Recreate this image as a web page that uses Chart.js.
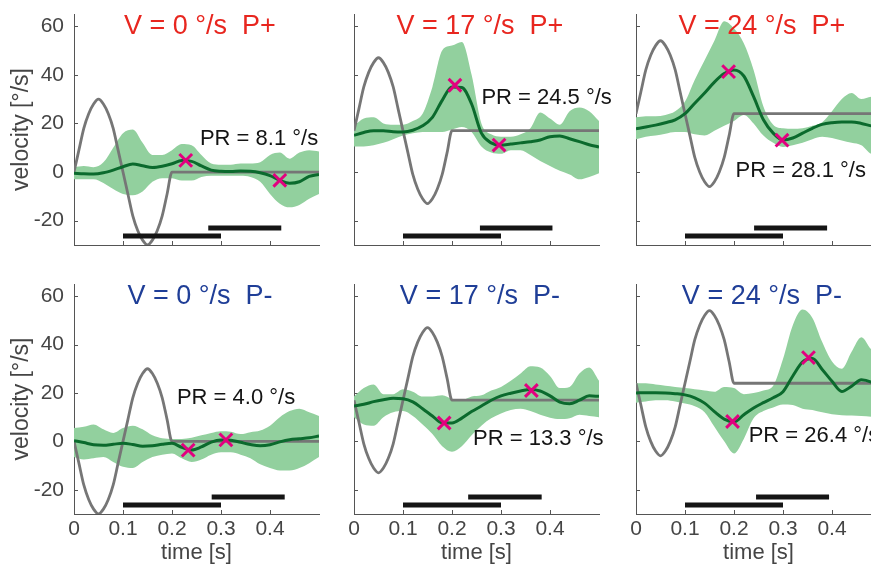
<!DOCTYPE html>
<html>
<head>
<meta charset="utf-8">
<script src="https://cdn.jsdelivr.net/npm/chart.js@4.4.1/dist/chart.umd.min.js"></script>
<style>
html,body{margin:0;padding:0;background:#fff;}
#wrap{position:relative;width:871px;height:569px;overflow:hidden;background:#fff;}
canvas{position:absolute;}
</style>
</head>
<body>
<div id="wrap"></div>
<script>
// ---------- data ----------
const T  = [0,0.02,0.04,0.06,0.08,0.1,0.12,0.14,0.16,0.18,0.2,0.22,0.24,0.26,0.28,0.3,0.32,0.34,0.36,0.38,0.4,0.42,0.44,0.46,0.48,0.5];
const TS = [0,0.01,0.02,0.03,0.04,0.05,0.06,0.07,0.08,0.09,0.1,0.11,0.12,0.13,0.14,0.15,0.16,0.17,0.18,0.19,0.2,0.5];
const xTicks = [0,0.1,0.2,0.3,0.4];
const xTickLabels = ['0','0.1','0.2','0.3','0.4'];
const yTicks = [-20,0,20,40,60];
const yTickLabels = ['-20','0','20','40','60'];

const titles = ['V = 0 °/s  P+','V = 17 °/s  P+','V = 24 °/s  P+','V = 0 °/s  P-','V = 17 °/s  P-','V = 24 °/s  P-'];
const prLabels = ['PR = 8.1 °/s','PR = 24.5 °/s','PR = 28.1 °/s','PR = 4.0 °/s','PR = 13.3 °/s','PR = 26.4 °/s'];
const barLevel = [-26.3,-23];

// V = 0, P+
const stim1  = [0,9,18,24,28,30,28,24,18,9,0,-9,-18,-24,-28,-30,-28,-24,-18,-9,0,0];
const mean1  = [-0.5,-0.7,-0.8,-0.3,0.8,2.2,3.3,2.6,1.9,2.4,3.4,4.7,4.4,2.5,0.8,0.3,0.2,0.4,0.3,-0.3,-1.5,-3.4,-4.6,-4.0,-1.8,-1.0];
const upper1 = [2,2.5,2,4,10,16,17.5,12,7,7,9,11.5,11,7,3.5,3,3,3.5,3.5,4,7,8,5.5,8,9,8.5];
const lower1 = [-3,-3,-3,-4.5,-7,-9,-9.5,-8,-4,-2.5,-2.5,-3.5,-3.5,-2,-1.5,-1.5,-1.5,-1.5,-2,-4,-9,-13,-14.5,-13.5,-11,-9];
const markT1 = [0.228,0.42];  const markV1 = [4.8,-3.4];
const barA1 = [0.1,0.3];      const barB1 = [0.274,0.423];

// V = 17, P+
const stim2  = [17,26,35,41,45,47,45,41,35,26,17,8,-1,-7,-11,-13,-11,-7,-1,8,17,17];
const mean2  = [15.1,16.3,17,17,16.6,16.5,17.2,19,22.5,29.5,35,34.8,28,16,12,11,11.5,12,12.5,13.2,14.5,14.8,13.7,12.5,11.2,10.3];
const upper2 = [19,22,22.5,20,19.5,19.5,21,24,35,50,52,53.5,40,20,15.5,14.5,14.5,15.5,18,24.5,22,19.5,25,26.5,25,21];
const lower2 = [10.5,10.5,11,12,13.5,15,16,16.5,16.5,16.5,17.5,18.5,16.5,10.5,8,7.5,9,9,7,4.5,2.5,0.5,-1,-3,-2,-0.5];
const markT2 = [0.206,0.296]; const markV2 = [35.7,11.1];
const barA2 = [0.1,0.3];      const barB2 = [0.257,0.405];

// V = 24, P+
const stim3  = [24,33,42,48,52,54,52,48,42,33,24,15,6,0,-4,-6,-4,0,6,15,24,24];
const mean3  = [17.8,18.5,19.3,20.3,21.5,24,28.3,32.5,37,40.5,42,39.5,31,21.5,16,13.2,14,16,18,19.6,20.3,20.6,20.6,20,19,18.5];
const upper3 = [22.5,23,23,23.5,25,29,38,46,54,62,59,53,42,27,19.5,18,17.8,18,19,20.5,25,30,32.5,30,31,30];
const lower3 = [13.5,14.5,15,15.8,16.5,16.5,15.5,15,17,19,21,23.5,20,15,12,10.3,11,12,13.5,14.5,14,13,12,11,7.5,7];
const markT3 = [0.189,0.298]; const markV3 = [41.3,13.1];
const barA3 = [0.1,0.3];      const barB3 = [0.241,0.39];

// V = 0, P-
const stim4  = [0,-9,-18,-24,-28,-30,-28,-24,-18,-9,0,9,18,24,28,30,28,24,18,9,0,0];
const mean4  = [0.3,-0.5,-1.4,-1.6,-1.2,-0.8,-1.3,-2,-1.8,-1.2,-0.8,-2.5,-3.6,-2.3,-0.3,0.6,0.5,-0.4,-1.3,-1.8,-1.4,-0.2,0.7,1.1,1.5,2.2];
const upper4 = [5.5,6,7,5,3.5,5.5,6.5,5,2.5,1.3,1,1,1.5,2.5,3.5,4.2,4,3,3.8,4.5,6.5,10,12.5,13.5,12,10.5];
const lower4 = [-6.5,-7.5,-7,-6.5,-8.5,-10.5,-11,-8.5,-6.5,-5.5,-5,-7,-8.5,-7.5,-5.5,-4.5,-4.5,-5.5,-7,-9.5,-11,-12,-12,-11,-9,-6.5];
const markT4 = [0.233,0.31];  const markV4 = [-3.6,0.6];
const barA4 = [0.1,0.3];      const barB4 = [0.281,0.43];

// V = 17, P-
const stim5  = [17,8,-1,-7,-11,-13,-11,-7,-1,8,17,26,35,41,45,47,45,41,35,26,17,17];
const mean5  = [14.6,15.3,16.4,17.2,17.8,17.6,16.3,13.5,10.5,7.6,7.6,9.6,12.3,14.6,17,18.8,19.9,20.8,21.4,20.8,18.8,16.2,15.5,17,18.8,18.6];
const upper5 = [18.5,22,23.5,19.5,19.5,21.5,20.5,18.5,18.5,19,17.5,17,18.5,19,21,22.5,25,28,31,30.5,27,22,22.5,28,30.5,25];
const lower5 = [10,7,6.5,10,12,12.5,10.5,7,3,-2,-4.3,-2,2.5,6.5,9.5,11.5,13,13.5,12.5,11,9.8,9.2,9.5,11,10.5,10];
const markT5 = [0.184,0.362]; const markV5 = [7.6,21];
const barA5 = [0.1,0.3];      const barB5 = [0.233,0.383];

// V = 24, P-
const stim6  = [24,15,6,0,-4,-6,-4,0,6,15,24,33,42,48,52,54,52,48,42,33,24,24];
const mean6  = [20,20.1,20.1,20,19.7,19.2,18,15.8,12.3,9.2,8,11,13.8,16,18,20.5,27,32.8,34.2,29.7,24.8,20.6,22.8,25.5,24.5,22];
const upper6 = [24,24,23.5,23,22.5,22,21.5,21,20.5,22.5,22,19.5,20,21,23,34,48,54.5,51,41,33,30,37,43,38,36];
const lower6 = [16,16.5,17,17,16.5,15.6,14.5,12,6,0,-5,1,9.5,12.5,14,15.2,15,13.5,13,12,11.2,10.8,10.7,10.5,10.2,10];
const markT6 = [0.197,0.352]; const markV6 = [8.2,34.6];
const barA6 = [0.1,0.3];      const barB6 = [0.245,0.394];

// ---------- styles ----------
const FONT = "'Liberation Sans', Arial, Helvetica, sans-serif";
Chart.defaults.font.family = FONT;
const BAND = 'rgb(146,208,158)';
const GREEN = '#0b6a2d';
const GRAY = '#767676';
const MAG = '#e2007f';
const BARC = '#151515';
const AXIS = '#555555';
const TICKC = '#454545';
const RED = '#e8261f';
const BLUE = '#1f3e97';

const tickPlugin = {
  id: 'inTicks',
  beforeDatasetsDraw(chart) {
    const {ctx, chartArea: a, scales: {x, y}} = chart;
    ctx.save();
    ctx.strokeStyle = AXIS; ctx.lineWidth = 1;
    ctx.beginPath();
    yTicks.forEach(v => { const py = Math.round(y.getPixelForValue(v)) + 0.5; ctx.moveTo(a.left, py); ctx.lineTo(a.left + 4, py); });
    xTicks.forEach(v => { if (v === 0) return; const px = Math.round(x.getPixelForValue(v)) + 0.5; ctx.moveTo(px, a.bottom); ctx.lineTo(px, a.bottom - 4); });
    ctx.stroke();
    ctx.restore();
  }
};
const textPlugin = {
  id: 'panelText',
  afterDraw(chart, args, opts) {
    const {ctx, scales: {x, y}} = chart;
    ctx.save();
    ctx.textBaseline = 'alphabetic';
    (opts.items || []).forEach(it => {
      ctx.font = it.font; ctx.fillStyle = it.color; ctx.textAlign = it.align;
      ctx.fillText(it.text, x.getPixelForValue(it.t), y.getPixelForValue(it.v));
    });
    ctx.restore();
  }
};

const panels = [
  {left:0,   top:-16, bottomRow:false, yLab:true,  stim:stim1, mean:mean1, upper:upper1, lower:lower1, mt:markT1, mv:markV1, ba:barA1, bb:barB1, color:RED,  pr:[0.257,11]},
  {left:280, top:-16, bottomRow:false, yLab:false, stim:stim2, mean:mean2, upper:upper2, lower:lower2, mt:markT2, mv:markV2, ba:barA2, bb:barB2, color:RED,  pr:[0.26,28.1]},
  {left:562, top:-16, bottomRow:false, yLab:false, stim:stim3, mean:mean3, upper:upper3, lower:lower3, mt:markT3, mv:markV3, ba:barA3, bb:barB3, color:RED,  pr:[0.203,-2]},
  {left:0,   top:254, bottomRow:true,  yLab:true,  stim:stim4, mean:mean4, upper:upper4, lower:lower4, mt:markT4, mv:markV4, ba:barA4, bb:barB4, color:BLUE, pr:[0.21,15.6]},
  {left:280, top:254, bottomRow:true,  yLab:false, stim:stim5, mean:mean5, upper:upper5, lower:lower5, mt:markT5, mv:markV5, ba:barA5, bb:barB5, color:BLUE, pr:[0.243,-1.65]},
  {left:562, top:254, bottomRow:true,  yLab:false, stim:stim6, mean:mean6, upper:upper6, lower:lower6, mt:markT6, mv:markV6, ba:barA6, bb:barB6, color:BLUE, pr:[0.23,-0.3]}
];

const pts = (xs, ys) => xs.map((x, i) => ({x: x, y: ys[i]}));

panels.forEach((p, k) => {
  const W = 359;
  const H = p.bottomRow ? 315 : 291;
  const xH = p.bottomRow ? 55 : 10;
  const padB = p.bottomRow ? 0 : 20;
  const cv = document.createElement('canvas');
  cv.width = W; cv.height = H;
  cv.style.left = p.left + 'px'; cv.style.top = p.top + 'px';
  cv.style.width = W + 'px'; cv.style.height = H + 'px';
  document.getElementById('wrap').appendChild(cv);

  new Chart(cv, {
    type: 'line',
    data: {
      datasets: [
        {data: pts(T, p.upper), borderWidth: 0, borderColor: 'rgba(0,0,0,0)', pointRadius: 0, fill: '+1', backgroundColor: BAND, cubicInterpolationMode: 'monotone', order: 6},
        {data: pts(T, p.lower), borderWidth: 0, borderColor: 'rgba(0,0,0,0)', pointRadius: 0, fill: false, cubicInterpolationMode: 'monotone', order: 6},
        {data: pts(TS, p.stim), borderColor: GRAY, borderWidth: 2.8, pointRadius: 0, fill: false, cubicInterpolationMode: 'monotone', order: 5},
        {data: pts(T, p.mean), borderColor: GREEN, borderWidth: 3, pointRadius: 0, fill: false, cubicInterpolationMode: 'monotone', order: 4},
        {data: pts(p.ba, [barLevel[0], barLevel[0]]), borderColor: BARC, borderWidth: 5, borderCapStyle: 'butt', pointRadius: 0, fill: false, order: 3},
        {data: pts(p.bb, [barLevel[1], barLevel[1]]), borderColor: BARC, borderWidth: 5, borderCapStyle: 'butt', pointRadius: 0, fill: false, order: 3},
        {data: pts(p.mt, p.mv), showLine: false, pointStyle: 'crossRot', pointRadius: 9, pointBorderWidth: 3, borderColor: MAG, pointBorderColor: MAG, backgroundColor: MAG, order: 1}
      ]
    },
    options: {
      responsive: false,
      animation: false,
      events: [],
      layout: {padding: {left: 0, right: 40, top: 30, bottom: padB}},
      plugins: {
        legend: {display: false},
        tooltip: {enabled: false},
        panelText: {items: [
          {text: titles[k], t: 0.257, v: 56.8, color: p.color, font: '27px ' + FONT, align: 'center'},
          {text: prLabels[k], t: p.pr[0], v: p.pr[1], color: '#141414', font: '22px ' + FONT, align: 'left'}
        ]}
      },
      scales: {
        x: {
          type: 'linear', min: 0, max: 0.5,
          afterBuildTicks: s => { s.ticks = xTicks.map(v => ({value: v})); },
          afterFit: s => { s.height = xH; },
          grid: {display: false, drawTicks: false},
          border: {display: true, color: AXIS, width: 1},
          ticks: {display: p.bottomRow, padding: 3, color: TICKC, font: {size: 21}, maxRotation: 0, autoSkip: false,
                  callback: (v, i) => xTickLabels[i]},
          title: {display: p.bottomRow, text: 'time [s]', color: TICKC, font: {size: 22}, padding: {top: 0, bottom: 3}}
        },
        y: {
          type: 'linear', min: -30, max: 65,
          afterBuildTicks: s => { s.ticks = yTicks.map(v => ({value: v})); },
          afterFit: s => { s.width = 74; },
          grid: {display: false, drawTicks: false},
          border: {display: true, color: AXIS, width: 1},
          ticks: {display: p.yLab, padding: 10, color: TICKC, font: {size: 21}, autoSkip: false,
                  callback: (v, i) => yTickLabels[i]},
          title: {display: p.yLab, text: 'velocity [°/s]', color: TICKC, font: {size: 23}, padding: {top: 8, bottom: 0}}
        }
      }
    },
    plugins: [tickPlugin, textPlugin]
  });
});
</script>
</body>
</html>
